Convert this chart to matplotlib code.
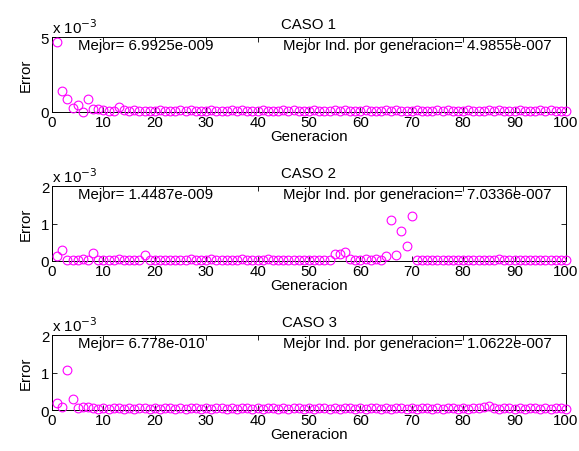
import matplotlib.pyplot as plt
import numpy as np

plt.rcParams['font.family'] = ['Liberation Sans', 'DejaVu Sans']
plt.rcParams['font.size'] = 10.8

# Error del mejor individuo por generacion (unidades de 1e-3)
generacion = np.arange(1, 101)

error_caso1 = [
    4.70, 1.38, 0.85, 0.28, 0.48, 0.02, 0.87, 0.20, 0.22, 0.15,
    0.06, 0.10, 0.33, 0.12, 0.05, 0.12, 0.08, 0.04, 0.10, 0.06,
    0.12, 0.05, 0.10, 0.04, 0.11, 0.06, 0.12, 0.05, 0.10, 0.06,
    0.12, 0.04, 0.10, 0.06, 0.11, 0.05, 0.12, 0.04, 0.10, 0.06,
    0.12, 0.05, 0.10, 0.04, 0.11, 0.06, 0.12, 0.05, 0.10, 0.06,
    0.12, 0.04, 0.10, 0.06, 0.11, 0.05, 0.12, 0.04, 0.10, 0.06,
    0.12, 0.05, 0.10, 0.04, 0.11, 0.06, 0.12, 0.05, 0.10, 0.06,
    0.12, 0.04, 0.10, 0.06, 0.11, 0.05, 0.12, 0.04, 0.10, 0.06,
    0.12, 0.05, 0.10, 0.04, 0.11, 0.06, 0.12, 0.05, 0.10, 0.06,
    0.12, 0.04, 0.10, 0.06, 0.11, 0.05, 0.12, 0.04, 0.10, 0.06,
]

error_caso2 = [
    0.14, 0.30, 0.02, 0.03, 0.02, 0.04, 0.03, 0.21, 0.03, 0.02,
    0.03, 0.02, 0.04, 0.02, 0.03, 0.02, 0.03, 0.15, 0.03, 0.02,
    0.03, 0.02, 0.03, 0.02, 0.03, 0.02, 0.06, 0.02, 0.03, 0.02,
    0.06, 0.02, 0.03, 0.02, 0.03, 0.02, 0.06, 0.02, 0.03, 0.02,
    0.03, 0.06, 0.03, 0.02, 0.03, 0.02, 0.03, 0.02, 0.03, 0.02,
    0.03, 0.02, 0.03, 0.02, 0.19, 0.20, 0.25, 0.04, 0.03, 0.02,
    0.05, 0.03, 0.05, 0.03, 0.13, 1.09, 0.16, 0.80, 0.41, 1.20,
    0.02, 0.03, 0.02, 0.03, 0.02, 0.03, 0.02, 0.03, 0.02, 0.03,
    0.02, 0.03, 0.02, 0.03, 0.02, 0.03, 0.05, 0.03, 0.02, 0.03,
    0.02, 0.03, 0.02, 0.03, 0.02, 0.03, 0.02, 0.03, 0.02, 0.03,
]

error_caso3 = [
    0.20, 0.07, 1.06, 0.30, 0.05, 0.08, 0.09, 0.05, 0.04, 0.06,
    0.04, 0.06, 0.05, 0.04, 0.06, 0.04, 0.06, 0.05, 0.04, 0.06,
    0.04, 0.06, 0.05, 0.04, 0.06, 0.04, 0.06, 0.05, 0.04, 0.06,
    0.04, 0.06, 0.05, 0.04, 0.06, 0.04, 0.06, 0.05, 0.04, 0.06,
    0.04, 0.06, 0.05, 0.04, 0.06, 0.04, 0.06, 0.05, 0.04, 0.06,
    0.04, 0.06, 0.05, 0.04, 0.06, 0.04, 0.06, 0.05, 0.04, 0.06,
    0.04, 0.06, 0.05, 0.04, 0.06, 0.04, 0.06, 0.05, 0.04, 0.06,
    0.04, 0.06, 0.05, 0.04, 0.06, 0.04, 0.06, 0.05, 0.04, 0.06,
    0.04, 0.06, 0.05, 0.08, 0.12, 0.06, 0.04, 0.06, 0.05, 0.04,
    0.06, 0.04, 0.06, 0.05, 0.04, 0.06, 0.04, 0.06, 0.05, 0.04,
]

titulos = ['CASO 1', 'CASO 2', 'CASO 3']
mejor = ['6.9925e-009', '1.4487e-009', '6.778e-010']
mejor_ind = ['4.9855e-007', '7.0336e-007', '1.0622e-007']
ylims = [5, 2, 2]
yticks = [[0, 5], [0, 1, 2], [0, 1, 2]]
errores = [error_caso1, error_caso2, error_caso3]

fig = plt.figure(figsize=(5.79, 4.52), dpi=100)
bottoms = [0.750, 0.4204, 0.0907]

for i in range(3):
    ax = fig.add_axes([0.0898, bottoms[i], 0.8877, 0.165])
    ax.plot(generacion, errores[i], 'o', color='magenta', markerfacecolor='none',
            markersize=6.3, markeredgewidth=0.8, clip_on=False, zorder=3)
    ax.set_xlim(0, 100)
    ax.set_ylim(0, ylims[i])
    ax.set_xticks(np.arange(0, 101, 10))
    ax.set_yticks(yticks[i])
    ax.tick_params(direction='in', top=True, right=True, length=3.5, width=0.6,
                   pad=2)
    for s in ax.spines.values():
        s.set_linewidth(0.7)
    ax.set_title(titulos[i], fontsize=10.8, pad=7)
    ax.set_xlabel('Generacion', labelpad=0)
    ax.set_ylabel('Error', labelpad=6)
    ax.text(0, 1.02, r'x 10$^{-3}$', transform=ax.transAxes,
            ha='left', va='bottom')
    ax.text(0.05, 0.9, 'Mejor= ' + mejor[i], transform=ax.transAxes,
            va='center', ha='left')
    ax.text(0.45, 0.9, 'Mejor Ind. por generacion= ' + mejor_ind[i],
            transform=ax.transAxes, va='center', ha='left')

plt.savefig('out.png', dpi=100)
